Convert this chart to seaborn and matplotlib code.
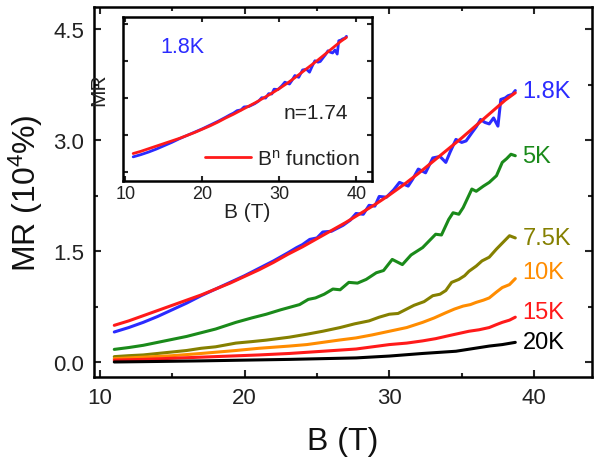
import numpy as np
import pandas as pd
import matplotlib
matplotlib.use("Agg")
import matplotlib.pyplot as plt
import seaborn as sns
from matplotlib.ticker import MultipleLocator

# MR curves (10^4 %), B in tesla
b_18k = [11.0, 12.0, 13.0, 14.0, 15.0, 16.0, 17.0, 18.0, 19.0, 20.0, 21.0, 22.0, 23.0, 23.6,
         24.0, 24.5, 25.0, 25.4, 26.0, 26.8, 27.3, 27.7, 28.2, 28.6, 29.0, 29.3, 29.8, 30.3,
         30.7, 31.3, 31.6, 32.0, 32.5, 33.0, 33.5, 33.9, 34.2, 34.6, 35.0, 35.3, 35.7, 36.0,
         36.3, 36.6, 36.9, 37.2, 37.5, 37.7, 38.0, 38.2, 38.5, 38.7]
mr_18k = [0.41, 0.47, 0.54, 0.62, 0.71, 0.80, 0.90, 0.99, 1.08, 1.17, 1.27, 1.37, 1.48, 1.55,
          1.59, 1.66, 1.68, 1.76, 1.77, 1.85, 1.92, 2.01, 2.00, 2.12, 2.11, 2.24, 2.23, 2.33,
          2.43, 2.38, 2.47, 2.61, 2.56, 2.76, 2.78, 2.70, 2.84, 3.01, 2.97, 2.99, 3.10, 3.18,
          3.28, 3.24, 3.22, 3.30, 3.19, 3.55, 3.57, 3.60, 3.62, 3.67]

b_5k = [11, 12, 13, 14, 15, 16, 17, 18, 19.4, 20.5, 21.5, 22.5, 23.8, 24.4, 24.9, 25.5, 26.1,
        26.6, 27.2, 27.8, 28.4, 29.1, 29.6, 30.2, 30.9, 31.5, 32.3, 32.8, 33.2, 33.6, 34.1,
        34.4, 34.8, 35.1, 35.7, 36.0, 36.5, 36.9, 37.4, 37.8, 38.1, 38.4, 38.7]
mr_5k = [0.175, 0.20, 0.23, 0.27, 0.31, 0.35, 0.40, 0.45, 0.54, 0.60, 0.65, 0.71, 0.78, 0.85,
         0.87, 0.92, 0.99, 0.98, 1.08, 1.07, 1.12, 1.21, 1.24, 1.39, 1.32, 1.45, 1.55, 1.65,
         1.73, 1.72, 1.93, 2.02, 2.00, 2.09, 2.34, 2.31, 2.38, 2.43, 2.52, 2.70, 2.75, 2.81, 2.79]

b_75k = [11, 12, 13, 14, 15, 16, 17, 18, 19.4, 20.5, 21.5, 23.1, 24.3, 25.4, 26.6, 27.6, 28.6,
         29.3, 30.0, 30.6, 31.1, 31.7, 32.4, 33.0, 33.5, 33.9, 34.3, 34.8, 35.2, 35.5, 36.0,
         36.4, 36.9, 37.4, 37.9, 38.3, 38.7]
mr_75k = [0.077, 0.09, 0.10, 0.12, 0.14, 0.16, 0.19, 0.21, 0.26, 0.28, 0.30, 0.34, 0.38, 0.42,
          0.47, 0.52, 0.56, 0.61, 0.65, 0.66, 0.71, 0.77, 0.82, 0.90, 0.92, 0.97, 1.08, 1.12,
          1.17, 1.23, 1.30, 1.37, 1.42, 1.53, 1.63, 1.71, 1.68]

b_10k = [11, 13, 15, 17, 19.4, 21, 23.1, 24.3, 25.4, 26.5, 27.7, 28.8, 30, 31.2, 32.3, 33.1,
         33.9, 34.5, 35.1, 35.6, 36.0, 36.5, 36.9, 37.4, 37.8, 38.3, 38.7]
mr_10k = [0.05, 0.07, 0.09, 0.12, 0.16, 0.19, 0.22, 0.24, 0.27, 0.30, 0.33, 0.37, 0.42, 0.47,
          0.54, 0.60, 0.67, 0.72, 0.76, 0.78, 0.81, 0.84, 0.87, 0.95, 1.01, 1.05, 1.13]

b_15k = [11, 13, 15, 17, 19, 21, 23.1, 25.4, 27.7, 30, 31.2, 32.3, 33.2, 34.1, 34.8, 35.5,
         36.2, 36.9, 37.4, 37.8, 38.3, 38.7]
mr_15k = [0.03, 0.04, 0.055, 0.07, 0.085, 0.10, 0.12, 0.15, 0.18, 0.24, 0.26, 0.29, 0.32, 0.36,
          0.39, 0.42, 0.44, 0.47, 0.51, 0.54, 0.57, 0.61]

b_20k = [11, 14, 17, 20, 23.1, 25.4, 27.7, 30, 32.3, 34.6, 36.9, 37.8, 38.7]
mr_20k = [0.005, 0.012, 0.02, 0.03, 0.04, 0.05, 0.06, 0.085, 0.12, 0.15, 0.22, 0.24, 0.27]

# B^n fit (n = 1.74) for 1.8K
b_fit = [11, 12, 13, 14, 15, 16, 17, 18, 19, 20, 21, 22, 23, 24, 25, 26, 27, 28, 29, 30, 31,
         32, 33, 34, 35, 36, 37, 38, 38.7]
mr_fit = [0.50, 0.56, 0.63, 0.70, 0.77, 0.84, 0.91, 0.99, 1.07, 1.16, 1.25, 1.35, 1.46, 1.56,
          1.67, 1.78, 1.89, 2.01, 2.13, 2.26, 2.40, 2.55, 2.71, 2.87, 3.03, 3.20, 3.37, 3.54, 3.64]

temps = ["1.8K", "5K", "7.5K", "10K", "15K", "20K"]
colors = ["#2b2bff", "#1a8a1a", "#858000", "#ff8c00", "#ff1a1a", "#000000"]
label_y = [3.66, 2.78, 1.68, 1.22, 0.68, 0.27]

series = [(b_18k, mr_18k), (b_5k, mr_5k), (b_75k, mr_75k),
          (b_10k, mr_10k), (b_15k, mr_15k), (b_20k, mr_20k)]
frames = []
for t, (b, mr) in zip(temps, series):
    frames.append(pd.DataFrame({"B": b, "MR": mr, "T": t}))
df = pd.concat(frames, ignore_index=True)
fit_df = pd.DataFrame({"B": b_fit, "MR": mr_fit})

sns.set_style("ticks")
plt.rcParams["font.family"] = ["Liberation Sans", "DejaVu Sans"]
plt.rcParams["mathtext.default"] = "regular"


def style_axes(ax, major_len, minor_len):
    ax.tick_params(which="both", direction="in", top=True, right=True, width=1.5)
    ax.tick_params(which="major", length=major_len)
    ax.tick_params(which="minor", length=minor_len)
    for s in ax.spines.values():
        s.set_linewidth(1.8)
        s.set_color("black")


fig = plt.figure(figsize=(5.95, 4.64), dpi=100)
ax = fig.add_axes([0.158, 0.185, 0.837, 0.798])

sns.lineplot(data=df, x="B", y="MR", hue="T", palette=dict(zip(temps, colors)),
             hue_order=temps, estimator=None, sort=False, linewidth=2.2, legend=False, ax=ax)
sns.lineplot(data=fit_df, x="B", y="MR", color="#ff1a1a", linewidth=2.2, estimator=None,
             sort=False, ax=ax)

for t, c, y in zip(temps, colors, label_y):
    ax.text(39.2, y, t, color=c, fontsize=17, va="center", ha="left")

ax.set_xlim(9.6, 44)
ax.set_ylim(-0.2, 4.8)
ax.xaxis.set_major_locator(MultipleLocator(10))
ax.xaxis.set_minor_locator(MultipleLocator(5))
ax.yaxis.set_major_locator(MultipleLocator(1.5))
ax.yaxis.set_minor_locator(MultipleLocator(0.75))
ax.set_yticks([0.0, 1.5, 3.0, 4.5])
ax.set_yticklabels(["0.0", "1.5", "3.0", "4.5"])
style_axes(ax, 5, 3)
ax.tick_params(axis="both", which="major", labelsize=16, labelcolor="#222222")
ax.tick_params(axis="x", pad=7)
ax.tick_params(axis="y", pad=7)
ax.set_xlabel("B (T)", fontsize=23, labelpad=13, color="#111111")
ax.set_ylabel("MR (10$^{4}$%)", fontsize=23, labelpad=6, color="#111111")

# inset: 1.8K data with the B^n fit
ins = fig.add_axes([0.207, 0.608, 0.418, 0.353])
sns.lineplot(x=b_18k, y=mr_18k, color=colors[0], linewidth=2.0, estimator=None, sort=False, ax=ins)
sns.lineplot(x=b_fit, y=mr_fit, color="#ff1a1a", linewidth=2.0, estimator=None, sort=False,
             label="B$^{n}$ function", ax=ins)
ins.set_xlim(9.7, 42)
ins.set_ylim(-0.24, 4.19)
ins.xaxis.set_major_locator(MultipleLocator(10))
ins.yaxis.set_major_locator(MultipleLocator(1))
ins.set_yticklabels([])
style_axes(ins, 3.5, 2)
ins.tick_params(labelsize=13, labelcolor="#222222", pad=3)
ins.set_xlabel("B (T)", fontsize=15, labelpad=0, color="#222222")
ins.set_ylabel("MR", fontsize=15, labelpad=6, color="#222222")
ins.yaxis.set_label_coords(-0.06, 0.56)
ins.text(0.149, 0.823, "1.8K", color=colors[0], fontsize=15.5, va="center",
         transform=ins.transAxes)
ins.text(0.643, 0.42, "n=1.74", color="#222222", fontsize=15, va="center",
         transform=ins.transAxes)
ins.legend(loc="lower right", frameon=False, fontsize=15, handlelength=2.2,
           handletextpad=0.3, borderaxespad=0.2, labelcolor="#222222")

fig.savefig("out.png", dpi=100)
